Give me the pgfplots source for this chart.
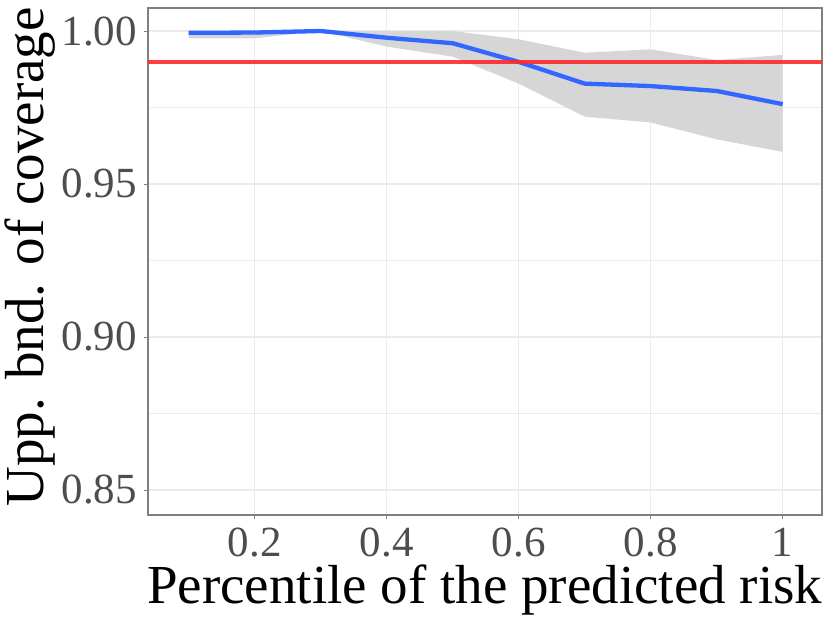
\documentclass[border=0pt]{standalone}
\usepackage{pgfplots}
\pgfplotsset{compat=1.18}
\usepackage{fontspec}
\setmainfont{Liberation Serif}
\definecolor{gridc}{HTML}{EBEBEB}
\definecolor{ribc}{HTML}{D6D6D6}
\definecolor{bluec}{HTML}{3366FF}
\definecolor{redc}{HTML}{FF2A2A}
\definecolor{tickc}{HTML}{4D4D4D}
\definecolor{framec}{HTML}{7F7F7F}
\begin{document}
\begin{tikzpicture}
\path[use as bounding box] (-148bp,-108bp) rectangle (682bp,515bp);
\begin{axis}[
  at={(0,0)}, anchor=south west,
  scale only axis, width=674bp, height=507bp,
  xmin=0.0383, xmax=1.0595, ymin=0.84183, ymax=1.00752,
  xtick={0.2,0.4,0.6,0.8,1}, xticklabels={0.2,0.4,0.6,0.8,1},
  ytick={0.85,0.90,0.95,1.00}, yticklabels={0.85,0.90,0.95,1.00},
  minor ytick={0.875,0.925,0.975},
  /pgf/number format/assume math mode=true,
  grid=both,
  major grid style={color=gridc, line width=1.2bp},
  minor grid style={color=gridc, line width=0.8bp},
  minor tick length=0pt,
  tick align=outside, major tick length=4bp,
  tick style={color=framec, line width=1bp},
  xtick pos=bottom, ytick pos=left,
  axis line style={color=framec, line width=1.2bp},
  ticklabel style={font=\fontsize{43bp}{50bp}\selectfont, text=tickc, inner sep=0pt},
  xticklabel style={anchor=base, yshift=-37.7bp, text depth=0pt, text height=0.68em},
  yticklabel style={anchor=east, xshift=-7bp},
  xlabel={Percentile of the predicted risk},
  ylabel={Upp. bnd. of coverage},
  label style={font=\fontsize{55bp}{62bp}\selectfont, inner sep=0pt},
  xlabel style={at={([yshift=-88.3bp]rel axis cs:0.4996,0)}, anchor=base, text height=0.6em},
  ylabel style={at={([xshift=-104bp]rel axis cs:0,0.509)}, anchor=base},
]
\addplot[fill=ribc, draw=none] coordinates {
  (0.1,1.0000) (0.2,1.0000) (0.3,1.0000) (0.4,1.0000) (0.5,1.0000)
  (0.6,0.9973) (0.7,0.9929) (0.8,0.9940) (0.9,0.9905) (1.0,0.9922)
  (1.0,0.9605) (0.9,0.9646) (0.8,0.9701) (0.7,0.9720) (0.6,0.9828)
  (0.5,0.9916) (0.4,0.9949) (0.3,1.0000) (0.2,0.9976) (0.1,0.9976)
} -- cycle;
\addplot[color=bluec, line width=4.3bp, line join=round] coordinates {
  (0.1,0.9994) (0.2,0.9995) (0.3,1.0000) (0.4,0.9978) (0.5,0.9960)
  (0.6,0.9899) (0.7,0.9828) (0.8,0.9820) (0.9,0.9804) (1.0,0.9761)
};
\addplot[color=redc, opacity=0.9, line width=4bp] coordinates {
  (0.0383,0.99) (1.0595,0.99)
};
\end{axis}
\end{tikzpicture}
\end{document}
